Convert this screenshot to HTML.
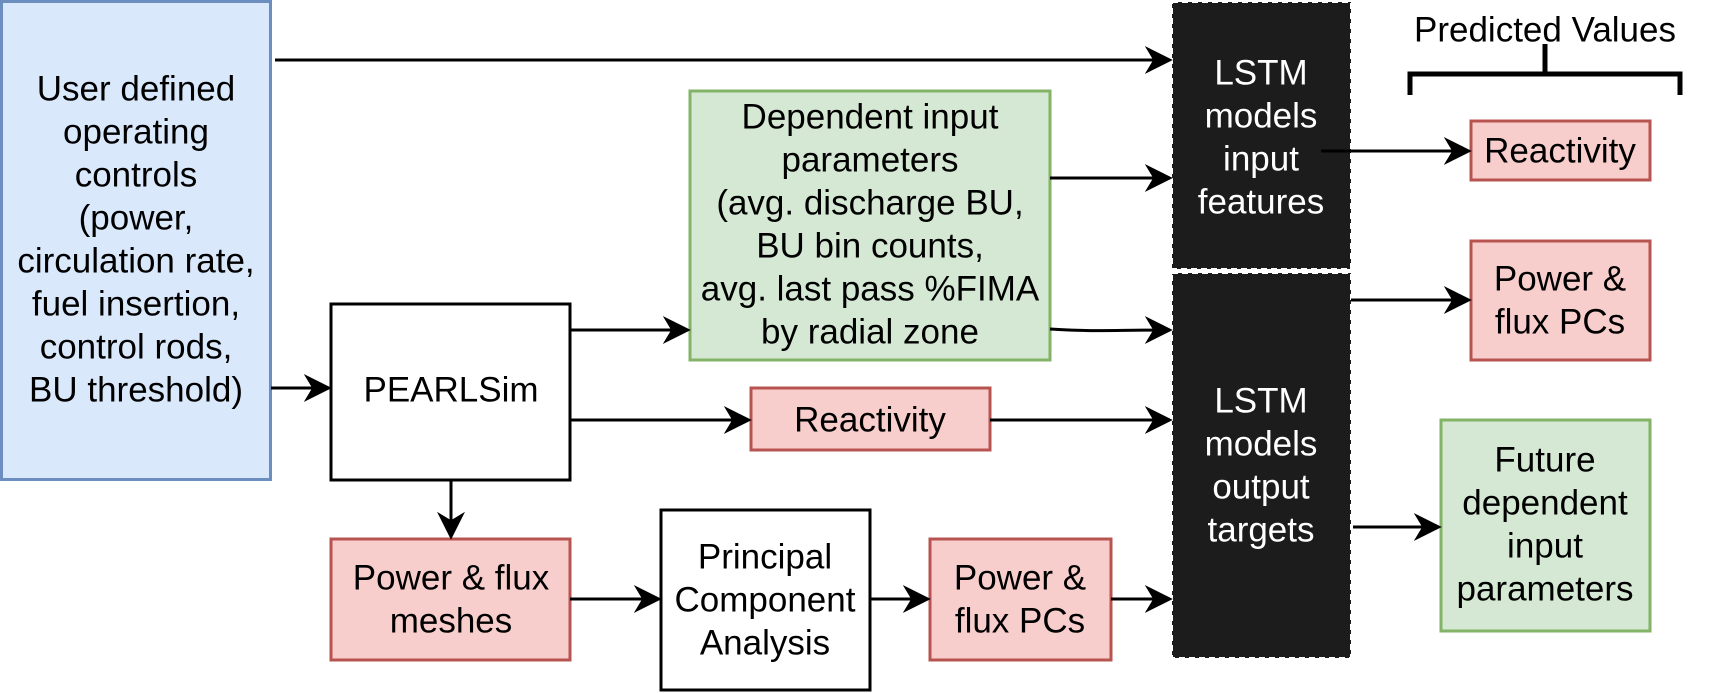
<!DOCTYPE html>
<html><head><meta charset="utf-8"><style>
html,body{margin:0;padding:0;background:#fff;}
svg{display:block;}
text{font-family:"Liberation Sans",Arial,sans-serif;font-size:35px;text-anchor:middle;dominant-baseline:central;}
.w{fill:#fff;}
.k{fill:#000;}
</style></head><body>
<svg width="1713" height="693" viewBox="0 0 1713 693" xmlns="http://www.w3.org/2000/svg">
<defs>
<marker id="b" viewBox="0 0 10 10" refX="9" refY="5" markerWidth="28" markerHeight="28" markerUnits="userSpaceOnUse" orient="auto">
<path d="M0,0 L10,5 L0,10 L3,5 Z" fill="#000"/></marker>
</defs>
<rect x="1.5" y="1.5" width="269" height="478" fill="#dae8fc" stroke="#6c8ebf" stroke-width="3"/>
<rect x="690" y="91" width="360" height="269" fill="#d5e8d4" stroke="#82b366" stroke-width="3"/>
<rect x="331" y="304" width="239" height="176" fill="#fff" stroke="#000" stroke-width="3"/>
<rect x="751" y="388" width="239" height="62" fill="#f8cecc" stroke="#b85450" stroke-width="3"/>
<rect x="331" y="539" width="239" height="121" fill="#f8cecc" stroke="#b85450" stroke-width="3"/>
<rect x="661" y="510" width="209" height="180" fill="#fff" stroke="#000" stroke-width="3"/>
<rect x="930" y="539" width="181" height="121" fill="#f8cecc" stroke="#b85450" stroke-width="3"/>
<rect x="1172" y="2" width="179" height="267" fill="#1c1c1c" stroke="#fff" stroke-width="2" stroke-dasharray="6,4"/>
<rect x="1172" y="273" width="179" height="385" fill="#1c1c1c" stroke="#fff" stroke-width="2" stroke-dasharray="6,4"/>
<rect x="1471" y="121" width="179" height="59" fill="#f8cecc" stroke="#b85450" stroke-width="3"/>
<rect x="1471" y="241" width="179" height="119" fill="#f8cecc" stroke="#b85450" stroke-width="3"/>
<rect x="1441" y="420" width="209" height="211" fill="#d5e8d4" stroke="#82b366" stroke-width="3"/>
<path d="M1410,95 V74 H1680 V95 M1545,74 V44" fill="none" stroke="#000" stroke-width="5"/>
<g stroke="#000" stroke-width="3" fill="none" marker-end="url(#b)">
<line x1="275" y1="60" x2="1170" y2="60"/>
<line x1="271" y1="388" x2="329" y2="388"/>
<line x1="570" y1="330" x2="688" y2="330"/>
<line x1="570" y1="420" x2="749" y2="420"/>
<line x1="1050" y1="178" x2="1170" y2="178"/>
<path d="M1050,329 C1100,332 1110,330 1170,330"/>
<line x1="990" y1="420" x2="1170" y2="420"/>
<line x1="451" y1="480" x2="451" y2="537"/>
<line x1="570" y1="599" x2="659" y2="599"/>
<line x1="870" y1="599" x2="928" y2="599"/>
<line x1="1111" y1="599" x2="1170" y2="599"/>
<line x1="1321" y1="151" x2="1469" y2="151"/>
<line x1="1351" y1="300" x2="1469" y2="300"/>
<line x1="1353" y1="527" x2="1439" y2="527"/>
</g>
<g class="k">
<text x="136" y="89">User defined</text>
<text x="136" y="132">operating</text>
<text x="136" y="175">controls</text>
<text x="136" y="218">(power,</text>
<text x="136" y="261">circulation rate,</text>
<text x="136" y="304">fuel insertion,</text>
<text x="136" y="347">control rods,</text>
<text x="136" y="390">BU threshold)</text>
<text x="870" y="117">Dependent input</text>
<text x="870" y="160">parameters</text>
<text x="870" y="203">(avg. discharge BU,</text>
<text x="870" y="246">BU bin counts,</text>
<text x="870" y="289">avg. last pass %FIMA</text>
<text x="870" y="332">by radial zone</text>
<text x="451" y="390">PEARLSim</text>
<text x="870" y="420">Reactivity</text>
<text x="451" y="578">Power &amp; flux</text>
<text x="451" y="621">meshes</text>
<text x="765" y="557">Principal</text>
<text x="765" y="600">Component</text>
<text x="765" y="643">Analysis</text>
<text x="1020" y="578">Power &amp;</text>
<text x="1020" y="621">flux PCs</text>
<text x="1545" y="30">Predicted Values</text>
<text x="1560" y="151">Reactivity</text>
<text x="1560" y="279">Power &amp;</text>
<text x="1560" y="322">flux PCs</text>
<text x="1545" y="460">Future</text>
<text x="1545" y="503">dependent</text>
<text x="1545" y="546">input</text>
<text x="1545" y="589">parameters</text>
</g>
<g class="w">
<text class="w" x="1261" y="73">LSTM</text>
<text class="w" x="1261" y="116">models</text>
<text class="w" x="1261" y="159">input</text>
<text class="w" x="1261" y="202">features</text>
<text class="w" x="1261" y="401">LSTM</text>
<text class="w" x="1261" y="444">models</text>
<text class="w" x="1261" y="487">output</text>
<text class="w" x="1261" y="530">targets</text>
</g>
</svg>
</body></html>
